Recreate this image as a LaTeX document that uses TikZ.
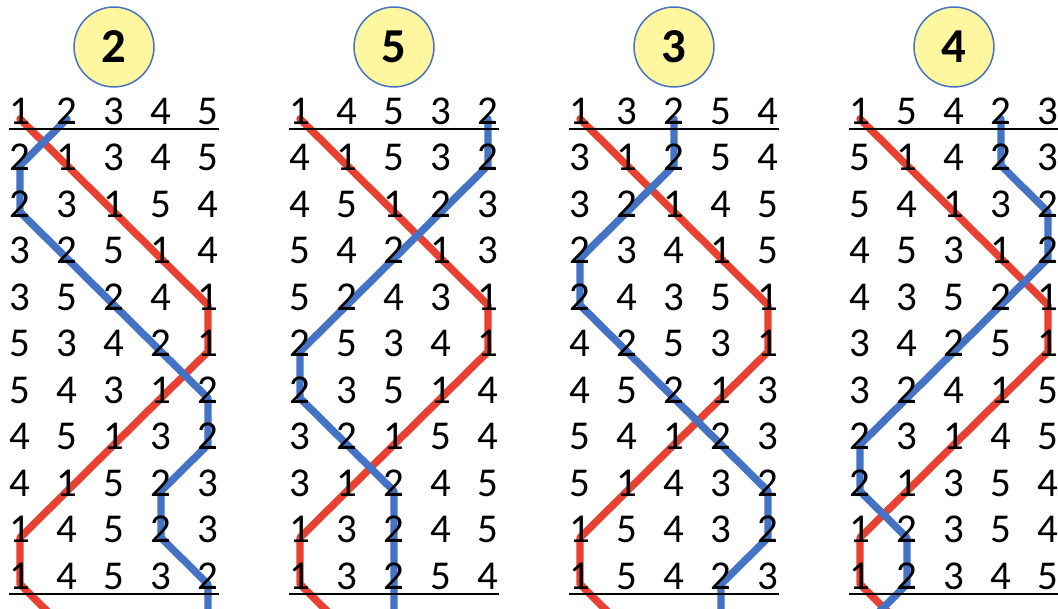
\documentclass[tikz,border=0pt]{standalone}
\usepackage{fontspec}
\setmainfont{Carlito}
\usetikzlibrary{backgrounds}
\definecolor{bellred}{RGB}{232,65,50}
\definecolor{bellblue}{RGB}{68,114,196}
\definecolor{callyellow}{RGB}{255,246,160}
\tikzset{
  digit/.style={inner sep=0pt, text height=0.63em, text depth=0pt,
    font=\fontsize{24.8pt}{26pt}\selectfont},
  callout/.style={circle, draw=bellblue, line width=0.9pt, fill=callyellow,
    minimum size=1.7cm, inner sep=0pt, font=\fontsize{29.5pt}{30pt}\selectfont\bfseries},
  rule/.style={line width=1.2pt},
  treble/.style={bellred, line width=4.5pt, line join=round, line cap=round},
  second/.style={bellblue, line width=4.5pt, line join=round, line cap=round}
}
\begin{document}
\begin{tikzpicture}
  \useasboundingbox (0,0) rectangle (22.511,12.957);
  % Panel 1: call 2
  \begin{scope}[xshift=0.4255cm]
    \node[callout] (call1) at (2,11.957) {2};
    \foreach \row [count=\r from 0] in {{1,2,3,4,5},{2,1,3,4,5},{2,3,1,5,4},{3,2,5,1,4},{3,5,2,4,1},{5,3,4,2,1},{5,4,3,1,2},{4,5,1,3,2},{4,1,5,2,3},{1,4,5,2,3},{1,4,5,3,2}}
      \foreach \d [count=\c from 0] in \row
        \node[digit, alias=p1-bell\d-r\r] (p1-r\r-c\c) at (\c,{10.426-0.99*\r}) {\d};
    \coordinate (p1-bell1-r11) at (1,-0.464);
    \coordinate (p1-bell2-r11) at (4,-0.464);
    \draw[rule] ([yshift=-0.1cm]p1-r0-c0.south west) -- ([yshift=-0.1cm]p1-r0-c4.south east);
    \draw[rule] ([yshift=-0.1cm]p1-r10-c0.south west) -- ([yshift=-0.1cm]p1-r10-c4.south east);
  \end{scope}
  % Panel 2: call 5
  \begin{scope}[xshift=6.383cm]
    \node[callout] (call2) at (2,11.957) {5};
    \foreach \row [count=\r from 0] in {{1,4,5,3,2},{4,1,5,3,2},{4,5,1,2,3},{5,4,2,1,3},{5,2,4,3,1},{2,5,3,4,1},{2,3,5,1,4},{3,2,1,5,4},{3,1,2,4,5},{1,3,2,4,5},{1,3,2,5,4}}
      \foreach \d [count=\c from 0] in \row
        \node[digit, alias=p2-bell\d-r\r] (p2-r\r-c\c) at (\c,{10.426-0.99*\r}) {\d};
    \coordinate (p2-bell1-r11) at (1,-0.464);
    \coordinate (p2-bell2-r11) at (2,-0.464);
    \draw[rule] ([yshift=-0.1cm]p2-r0-c0.south west) -- ([yshift=-0.1cm]p2-r0-c4.south east);
    \draw[rule] ([yshift=-0.1cm]p2-r10-c0.south west) -- ([yshift=-0.1cm]p2-r10-c4.south east);
  \end{scope}
  % Panel 3: call 3
  \begin{scope}[xshift=12.3404cm]
    \node[callout] (call3) at (2,11.957) {3};
    \foreach \row [count=\r from 0] in {{1,3,2,5,4},{3,1,2,5,4},{3,2,1,4,5},{2,3,4,1,5},{2,4,3,5,1},{4,2,5,3,1},{4,5,2,1,3},{5,4,1,2,3},{5,1,4,3,2},{1,5,4,3,2},{1,5,4,2,3}}
      \foreach \d [count=\c from 0] in \row
        \node[digit, alias=p3-bell\d-r\r] (p3-r\r-c\c) at (\c,{10.426-0.99*\r}) {\d};
    \coordinate (p3-bell1-r11) at (1,-0.464);
    \coordinate (p3-bell2-r11) at (3,-0.464);
    \draw[rule] ([yshift=-0.1cm]p3-r0-c0.south west) -- ([yshift=-0.1cm]p3-r0-c4.south east);
    \draw[rule] ([yshift=-0.1cm]p3-r10-c0.south west) -- ([yshift=-0.1cm]p3-r10-c4.south east);
  \end{scope}
  % Panel 4: call 4
  \begin{scope}[xshift=18.2979cm]
    \node[callout] (call4) at (2,11.957) {4};
    \foreach \row [count=\r from 0] in {{1,5,4,2,3},{5,1,4,2,3},{5,4,1,3,2},{4,5,3,1,2},{4,3,5,2,1},{3,4,2,5,1},{3,2,4,1,5},{2,3,1,4,5},{2,1,3,5,4},{1,2,3,5,4},{1,2,3,4,5}}
      \foreach \d [count=\c from 0] in \row
        \node[digit, alias=p4-bell\d-r\r] (p4-r\r-c\c) at (\c,{10.426-0.99*\r}) {\d};
    \coordinate (p4-bell1-r11) at (1,-0.464);
    \coordinate (p4-bell2-r11) at (0,-0.464);
    \draw[rule] ([yshift=-0.1cm]p4-r0-c0.south west) -- ([yshift=-0.1cm]p4-r0-c4.south east);
    \draw[rule] ([yshift=-0.1cm]p4-r10-c0.south west) -- ([yshift=-0.1cm]p4-r10-c4.south east);
  \end{scope}
  % Paths of bells 1 and 2, behind the digits
  \begin{pgfonlayer}{background}
    \clip (0,0) rectangle (22.511,12.957);
    \foreach \p in {1,...,4} {
      \draw[treble] (p\p-bell1-r0.center) \foreach \r in {1,...,11} {-- (p\p-bell1-r\r.center)};
      \draw[second] (p\p-bell2-r0.center) \foreach \r in {1,...,11} {-- (p\p-bell2-r\r.center)};
    }
  \end{pgfonlayer}
\end{tikzpicture}
\end{document}
